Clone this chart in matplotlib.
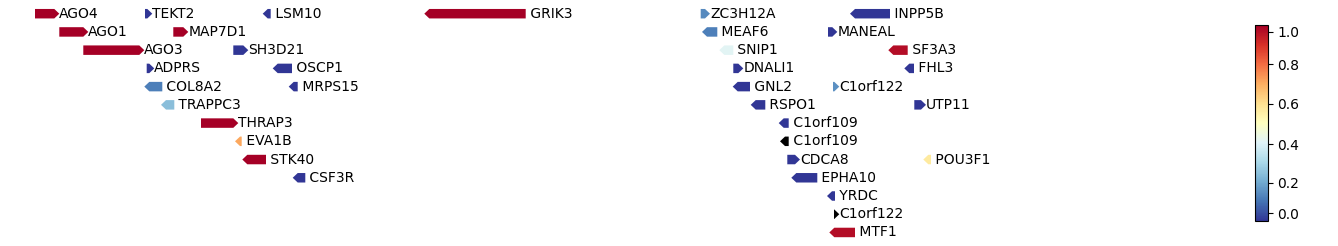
import numpy as np
import matplotlib
matplotlib.use("Agg")
import matplotlib.pyplot as plt
from matplotlib.patches import Polygon
from matplotlib.colors import FuncNorm, Normalize
from matplotlib.cm import ScalarMappable

nan = np.nan

# gene track: name, start / end (kb), strand, layout row, score
GENES = ["AGO4", "TEKT2", "LSM10", "GRIK3", "ZC3H12A", "INPP5B",
         "AGO1", "MAP7D1", "MEAF6", "MANEAL",
         "AGO3", "SH3D21", "SNIP1", "SF3A3",
         "ADPRS", "OSCP1", "DNALI1", "FHL3",
         "COL8A2", "MRPS15", "GNL2", "C1orf122",
         "TRAPPC3", "RSPO1", "UTP11",
         "THRAP3", "C1orf109",
         "EVA1B", "C1orf109",
         "STK40", "CDCA8", "POU3F1",
         "CSF3R", "EPHA10",
         "YRDC",
         "C1orf122",
         "MTF1"]
START = [35.0, 145.0, 262.7, 424.3, 700.7, 850.0,
         59.3, 173.3, 702.0, 828.0,
         83.3, 233.3, 719.3, 888.3,
         146.7, 272.7, 733.3, 904.3,
         144.3, 288.7, 732.7, 833.0,
         161.0, 750.7, 914.3,
         201.0, 778.7,
         235.0, 780.0,
         242.3, 787.3, 923.3,
         292.7, 791.3,
         827.0,
         834.0,
         829.3]
END = [59.3, 152.3, 270.7, 525.7, 710.0, 890.0,
       88.3, 188.3, 717.3, 837.3,
       144.3, 248.3, 733.3, 907.7,
       154.3, 292.0, 743.3, 914.0,
       162.3, 297.7, 750.0, 839.3,
       174.3, 765.3, 926.0,
       238.3, 788.7,
       241.7, 788.7,
       266.0, 800.0, 931.0,
       305.3, 817.3,
       835.0,
       839.3,
       855.0]
STRAND = ["+", "+", "-", "-", "+", "-",
          "+", "+", "-", "+",
          "+", "+", "-", "-",
          "+", "-", "+", "-",
          "-", "-", "-", "+",
          "-", "-", "+",
          "+", "-",
          "-", "-",
          "-", "+", "-",
          "-", "-",
          "-",
          "+",
          "-"]
ROW = [0, 0, 0, 0, 0, 0,
       1, 1, 1, 1,
       2, 2, 2, 2,
       3, 3, 3, 3,
       4, 4, 4, 4,
       5, 5, 5,
       6, 6,
       7, 7,
       8, 8, 8,
       9, 9,
       10,
       11,
       12]
SCORE = [1.0, 0.0, 0.0, 1.0, 0.14, 0.0,
         1.0, 1.0, 0.12, 0.0,
         1.0, 0.0, 0.41, 0.97,
         0.0, 0.0, 0.0, 0.0,
         0.12, 0.0, 0.0, 0.15,
         0.24, 0.0, 0.0,
         1.0, 0.0,
         0.71, nan,
         1.0, 0.0, 0.57,
         0.0, 0.0,
         0.0,
         nan,
         0.97]
CB_TICKS = [0.0, 0.2, 0.4, 0.6, 0.8, 1.0]

cmap = plt.get_cmap("RdYlBu_r").copy()
cmap.set_bad("black")
gene_norm = Normalize(0, 1)

# colour bar uses a slightly stretched scale
_v = [-0.05, 0.0, 0.2, 0.4, 0.6, 0.8, 1.0, 1.04]
_p = np.array([0, 7.7, 38, 76.7, 117.3, 156.7, 189.3, 196]) / 196
cb_norm = FuncNorm((lambda x: np.interp(x, _v, _p), lambda y: np.interp(y, _p, _v)),
                   vmin=-0.05, vmax=1.04)

W, H = 1338, 246
fig = plt.figure(figsize=(W / 100, H / 100), dpi=100)
ax = fig.add_axes([0, 0, 0.93, 1])
ax.set_xlim(0, 0.93 * W)
row_h = 18.23
top = 13.7
ax.set_ylim((H - top) / row_h, -top / row_h)
ax.axis("off")

half = 0.26
head = 5.0
for name, s, e, st, r, v in zip(GENES, START, END, STRAND, ROW, SCORE):
    hl = min(head, e - s)
    if st == "+":
        pts = [(s, r - half), (e - hl, r - half), (e, r), (e - hl, r + half), (s, r + half)]
        label = name
    else:
        pts = [(e, r - half), (s + hl, r - half), (s, r), (s + hl, r + half), (e, r + half)]
        label = " " + name
    ax.add_patch(Polygon(pts, closed=True, facecolor=cmap(gene_norm(v)), edgecolor="none"))
    ax.text(e, r, label, ha="left", va="center", fontsize=10)

cax = fig.add_axes([1255 / W, 25 / H, 12.5 / W, 196 / H])
sm = ScalarMappable(norm=cb_norm, cmap=cmap)
cb = fig.colorbar(sm, cax=cax, ticks=CB_TICKS)
cb.ax.set_yticklabels([f"{t:.1f}" for t in CB_TICKS])
cb.ax.tick_params(labelsize=10)

fig.savefig("out.png", dpi=100)
